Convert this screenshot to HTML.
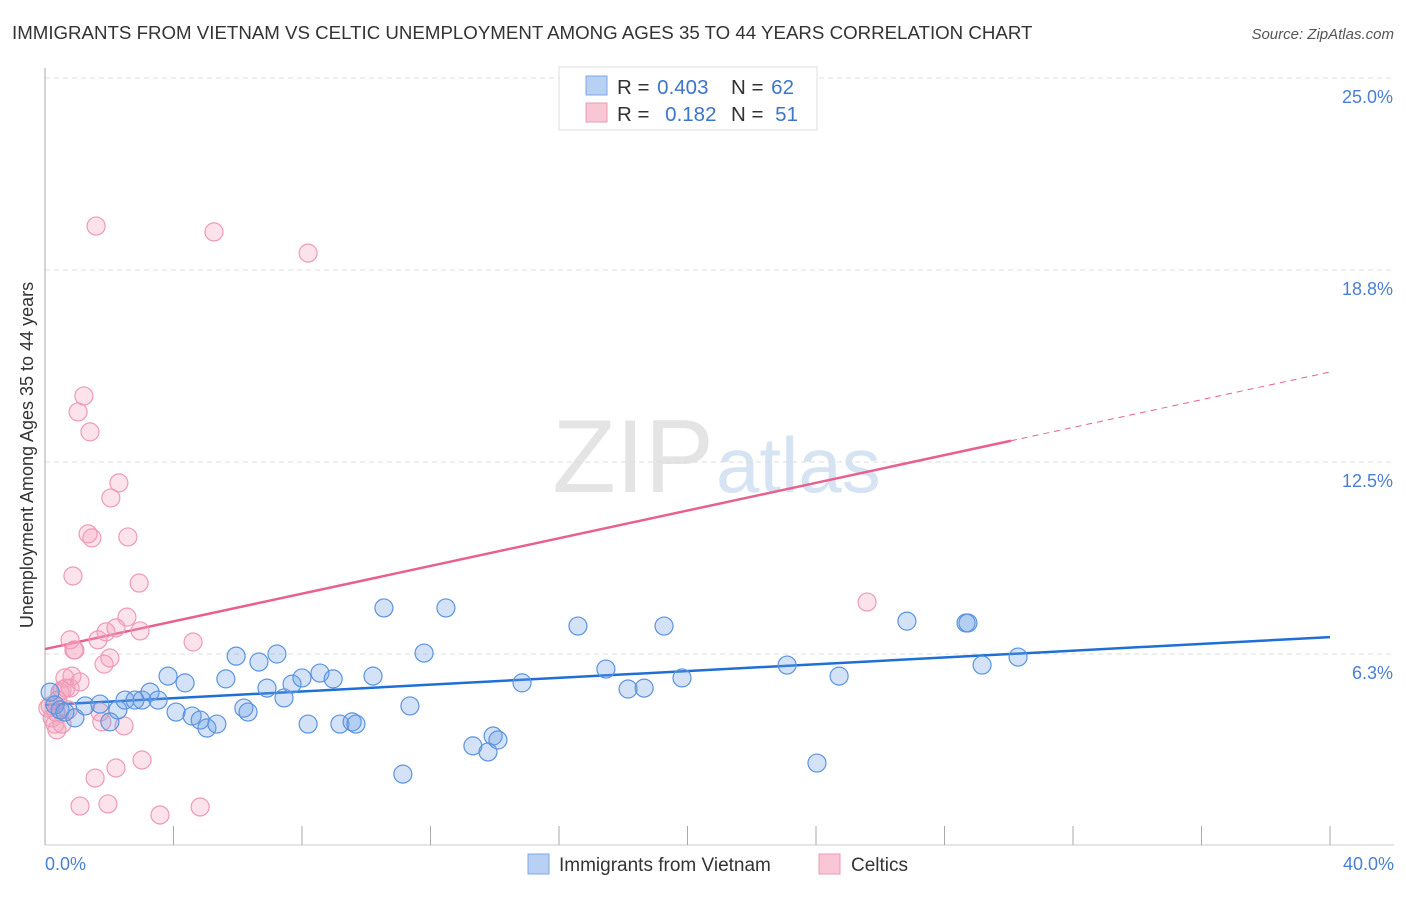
<!DOCTYPE html>
<html><head><meta charset="utf-8"><style>
body{margin:0;background:#fff;font-family:"Liberation Sans",sans-serif;}
svg text{font-family:"Liberation Sans",sans-serif;}
</style></head><body>
<svg id="chart" width="1406" height="892" xmlns="http://www.w3.org/2000/svg">
<text x="12" y="39" font-size="18.7" fill="#333">IMMIGRANTS FROM VIETNAM VS CELTIC UNEMPLOYMENT AMONG AGES 35 TO 44 YEARS CORRELATION CHART</text>
<text x="1394" y="39" font-size="15" fill="#555" font-style="italic" text-anchor="end">Source: ZipAtlas.com</text>
<text x="714" y="492" font-size="104" fill="#e4e4e4" text-anchor="end" font-family="Liberation Serif">ZIP</text>
<text x="716" y="492" font-size="78" fill="#d6e3f3">atlas</text>
<g id="grid"></g>
<g id="axes"></g>
<g id="trend"></g>
<g id="points"></g>
<text x="33" y="455" font-size="18" fill="#333" text-anchor="middle" transform="rotate(-90 33 455)">Unemployment Among Ages 35 to 44 years</text>
<text x="45" y="870" font-size="18" fill="#4a7fd4">0.0%</text>
<text x="1394" y="870" font-size="18" fill="#4a7fd4" text-anchor="end">40.0%</text>
<g>
<rect x="559" y="67" width="258" height="63" fill="#fff" stroke="#ddd"/>
<rect x="586" y="76" width="21" height="19" fill="#b7d0f3" stroke="#7ea8e6"/>
<rect x="586" y="103" width="21" height="19" fill="#f8c6d5" stroke="#ee9ab5"/>
<text x="617" y="94" font-size="20.5" fill="#333">R = <tspan fill="#3d74cc" dx="2">0.403</tspan></text>
<text x="731" y="94" font-size="20.5" fill="#333">N = <tspan fill="#3d74cc" dx="2">62</tspan></text>
<text x="617" y="121" font-size="20.5" fill="#333">R = <tspan fill="#3d74cc" dx="10">0.182</tspan></text>
<text x="731" y="121" font-size="20.5" fill="#333">N = <tspan fill="#3d74cc" dx="6">51</tspan></text>
</g>
<g>
<rect x="528" y="854" width="21" height="20" fill="#b7d0f3" stroke="#7ea8e6"/>
<text x="559" y="871" font-size="19" fill="#333">Immigrants from Vietnam</text>
<rect x="819" y="854" width="21" height="20" fill="#f8c6d5" stroke="#ee9ab5"/>
<text x="851" y="871" font-size="19" fill="#333">Celtics</text>
</g>
</svg>
<script>
const yTicks=[6.25,12.5,18.75,25];
const yTickLabels=["6.3%","12.5%","18.8%","25.0%"];
const xTicks=[0,4,8,12,16,20,24,28,32,36,40];
const blueX=[0.16,0.31,0.47,0.62,0.93,1.25,1.71,2.02,2.27,2.49,2.80,3.02,3.27,3.52,3.83,4.08,4.36,4.58,4.83,5.04,5.35,5.63,5.95,6.19,6.32,6.66,6.91,7.22,7.44,7.69,8.00,8.19,8.56,8.97,9.18,9.56,9.68,10.21,10.55,11.14,11.36,11.80,12.48,13.32,13.79,13.95,14.10,14.85,16.59,17.46,18.15,18.65,19.27,19.83,23.10,24.03,24.72,26.83,28.67,28.73,29.17,30.29];
const blueY=[5.01,4.59,4.43,4.36,4.17,4.56,4.62,4.04,4.43,4.75,4.75,4.75,5.01,4.75,5.53,4.36,5.31,4.23,4.10,3.84,3.97,5.44,6.18,4.49,4.36,5.99,5.14,6.25,4.82,5.27,5.47,3.97,5.63,5.44,3.97,4.04,3.97,5.53,7.75,2.34,4.56,6.28,7.75,3.26,3.06,3.58,3.45,5.31,7.16,5.76,5.11,5.14,7.16,5.47,5.89,2.70,5.53,7.32,7.26,7.26,5.89,6.15];
const pinkX=[0.16,0.22,0.31,0.37,0.40,0.47,0.53,0.62,0.72,0.78,0.78,0.87,0.93,1.03,1.21,1.09,1.40,1.56,1.59,1.34,1.46,1.65,1.71,1.77,1.84,1.90,1.96,2.05,2.02,2.21,2.30,2.46,2.55,2.58,2.93,2.96,3.02,3.58,4.61,4.83,5.26,8.19,25.59,0.53,0.34,0.65,0.84,0.09,0.90,1.09,2.21];
const pinkY=[4.56,4.17,3.97,3.78,4.75,5.01,5.08,5.47,4.43,5.14,6.71,8.79,6.38,14.13,14.65,1.30,13.48,2.21,20.18,10.16,10.03,6.71,4.36,4.04,5.92,6.97,1.37,11.33,6.12,2.54,11.82,3.91,7.45,10.06,8.56,7.00,2.80,1.01,6.64,1.27,19.99,19.30,7.94,3.97,4.36,5.14,5.53,4.49,6.38,5.34,7.10];
const blueTrend=[4.59,6.80];
const pinkTrend=[6.41,15.43];
const pinkSolidEnd=30.07;
const X=v=>45+v/40*1285, Y=v=>846-v*30.72;
const NS="http://www.w3.org/2000/svg";
function mk(tag,attrs,parent){const e=document.createElementNS(NS,tag);for(const k in attrs)e.setAttribute(k,attrs[k]);document.getElementById(parent).appendChild(e);return e;}
yTicks.forEach((t,i)=>{
 const l=mk('line',{x1:45,x2:1394,y1:Y(t),y2:Y(t),stroke:'#ddd','stroke-dasharray':'5,4'},'grid');
 
 
 const tx=mk('text',{x:1393,y:Y(t)+25,'font-size':18,fill:'#4a7fd4','text-anchor':'end'},'grid');
 tx.textContent=yTickLabels[i];
 
 
});
const ya=mk('line',{x1:45,x2:45,y1:68,y2:845,stroke:'#aaa'},'axes');


const xa=mk('line',{x1:45,x2:1394,y1:845,y2:845,stroke:'#ccc'},'axes');


xTicks.forEach(t=>{
 const l=mk('line',{x1:X(t),x2:X(t),y1:826,y2:845,stroke:'#aaa'},'axes');
 
 
});
const bl=mk('line',{x1:X(0),y1:Y(blueTrend[0]),x2:X(40),y2:Y(blueTrend[1]),stroke:'#1f6fd6','stroke-width':2.5},'trend');


const pAt=x=>pinkTrend[0]+(pinkTrend[1]-pinkTrend[0])*x/40;
const pl=mk('line',{x1:X(0),y1:Y(pAt(0)),x2:X(pinkSolidEnd),y2:Y(pAt(pinkSolidEnd)),stroke:'#e8608e','stroke-width':2.5},'trend');


const pd=mk('line',{x1:X(pinkSolidEnd),y1:Y(pAt(pinkSolidEnd)),x2:X(40),y2:Y(pAt(40)),stroke:'#e8608e','stroke-width':1,'stroke-dasharray':'6,5'},'trend');


pinkX.forEach((x,i)=>{
 const c=mk('circle',{cx:X(x),cy:Y(pinkY[i]),r:9,fill:'rgba(244,160,188,0.3)',stroke:'#ee9ab5','stroke-width':1.2},'points');
 
 
});
blueX.forEach((x,i)=>{
 const c=mk('circle',{cx:X(x),cy:Y(blueY[i]),r:9,fill:'rgba(110,160,230,0.3)',stroke:'#5b94e0','stroke-width':1.2},'points');
 
 
});
</script>
</body></html>
